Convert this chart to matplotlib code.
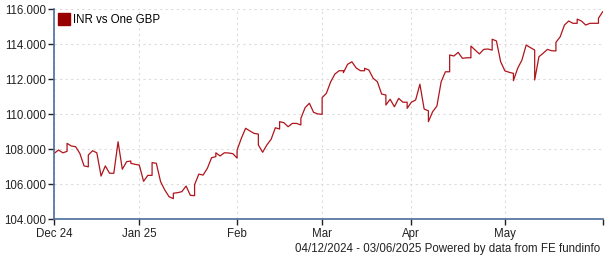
# INR vs One GBP, 04/12/2024 - 03/06/2025
# one point per business day; Mondays also carry the weekend quote

import numpy as np
import pandas as pd
import matplotlib.pyplot as plt

dates = pd.bdate_range("2024-12-04", "2025-06-03")

rate = [107.77, 107.96, 107.80, 108.34, 108.19, 108.15, 107.77, 107.05, 107.67, 107.92,
        107.80, 106.47, 107.05, 106.63, 106.63, 108.43, 106.86, 107.29, 107.20, 107.14,
        107.10, 106.17, 106.51, 107.24, 107.20, 106.15, 105.67, 105.29, 105.49, 105.52,
        105.58, 105.90, 105.37, 105.98, 106.58, 106.53, 106.91, 107.52, 107.80, 107.62,
        107.80, 107.79, 107.75, 107.96, 108.63, 109.20, 109.05, 108.91, 108.25, 107.83,
        108.25, 108.57, 109.23, 109.58, 109.52, 109.29, 109.48, 109.48, 109.77, 110.38,
        110.63, 110.11, 110.02, 110.95, 111.20, 111.85, 112.30, 112.49, 112.38, 112.86,
        113.00, 112.65, 112.49, 112.63, 112.53, 112.06, 111.86, 111.16, 110.53, 110.86,
        110.43, 110.91, 110.69, 110.34, 110.69, 110.82, 111.72, 110.30, 109.58, 110.15,
        110.47, 111.86, 112.43, 113.39, 113.33, 113.54, 113.20, 113.23, 113.90, 113.67,
        113.45, 113.71, 113.73, 114.29, 114.19, 113.00, 112.48, 112.40, 111.92, 112.63,
        113.10, 113.96, 113.81, 111.96, 113.29, 113.49, 113.71, 113.63, 114.11, 114.43,
        115.10, 115.33, 115.20, 115.44, 115.33, 115.10, 115.20, 115.20, 115.49, 115.86]

# weekend quote shown at each Monday, before the Monday value
weekend_rate = [107.88, 107.00, 106.63, 107.33, 106.51, 105.18, 105.35, 107.58, 107.50,
                108.87, 109.16, 109.39, 110.00, 112.49, 112.49, 111.10, 110.69, 110.20,
                112.43, 113.23, 113.67, 112.34, 113.67, 113.62, 115.20, 115.20]

month_labels = ["Dec 24", "Jan 25", "Feb", "Mar", "Apr", "May"]
footer = "04/12/2024 - 03/06/2025 Powered by data from FE fundinfo"

# build the line: x = business day number
x = []
y = []
w = iter(weekend_rate)
for i, d in enumerate(dates):
    if d.weekday() == 0:
        x.append(i)
        y.append(next(w))
    x.append(i)
    y.append(rate[i])

# tick at first business day of each month, plus the end
month_idx = [0] + [i for i in range(1, len(dates)) if dates[i].month != dates[i - 1].month]
month_idx = month_idx[:len(month_labels)]

plt.rcParams['font.family'] = ['Liberation Sans', 'DejaVu Sans']

fig = plt.figure(figsize=(6.05, 2.6), dpi=100)
ax = fig.add_axes([54.3 / 605, 1 - 219.3 / 260, (602.7 - 54.3) / 605, 210 / 260])

ax.plot(x, y, color='#b0141c', lw=0.9)

ax.set_xlim(0, len(dates) - 1)
ax.set_ylim(104, 116)
ax.set_yticks(np.arange(104, 117, 2))
ax.set_yticklabels([f"{v:.3f}" for v in np.arange(104, 117, 2)])
ax.set_xticks(month_idx + [len(dates) - 1])
ax.set_xticklabels(month_labels + [""])

for s in ['top', 'right']:
    ax.spines[s].set_visible(False)
for s in ['left', 'bottom']:
    ax.spines[s].set_color('#4a6e9c')
    ax.spines[s].set_linewidth(1.2)

ax.tick_params(axis='both', colors='#222222', labelsize=8.3, length=4, width=1)
ax.tick_params(axis='y', pad=2)
ax.tick_params(axis='x', pad=2.5)
ax.grid(True, color='#dcdcdc', linestyle=(0, (2, 3)), linewidth=0.8)
ax.set_axisbelow(True)

# legend box
ax.plot([], [], 's', color='#990000', ms=8, label="INR vs One GBP")
leg = ax.legend(loc='upper left', frameon=False, fontsize=8.3, handlelength=0.8,
                handletextpad=0.4, borderaxespad=0.2, borderpad=0.2)

fig.text(600 / 605, 1 - 249 / 260, footer, ha='right', va='center', fontsize=8.3, color='#222222')

plt.savefig("out.png", dpi=100)
